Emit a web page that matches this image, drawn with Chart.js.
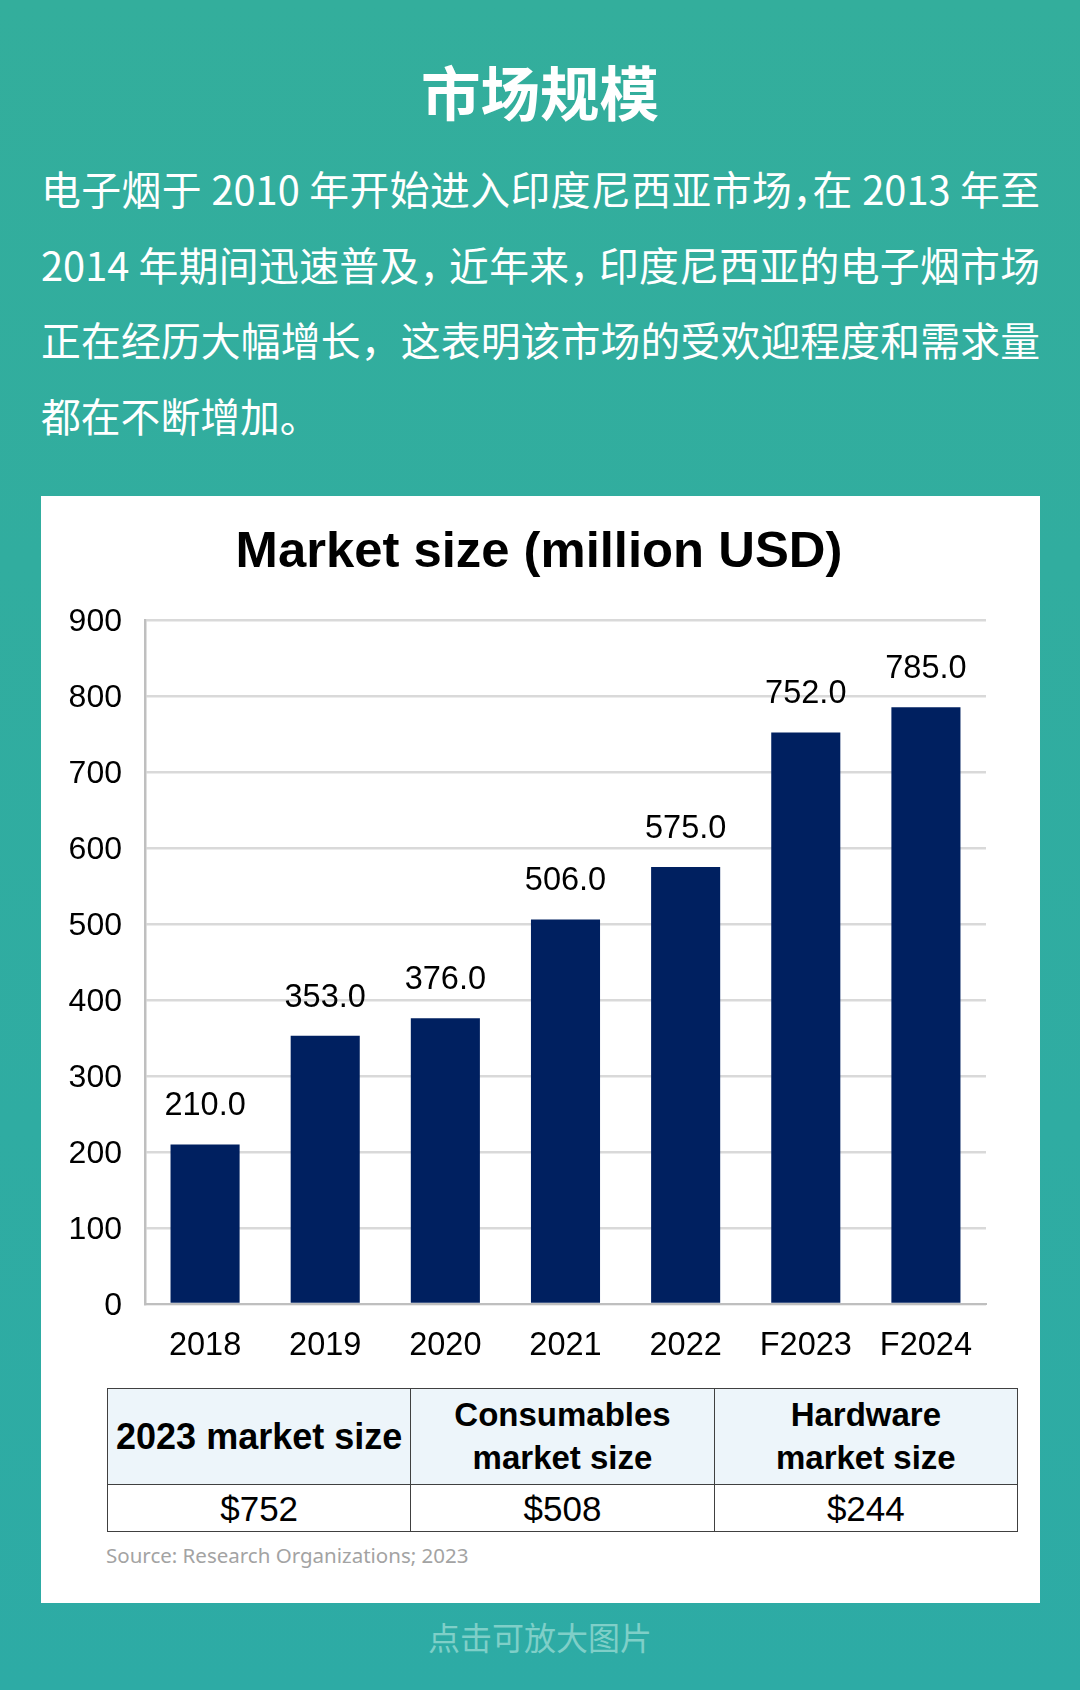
<!DOCTYPE html>
<html>
<head>
<meta charset="utf-8">
<script src="https://cdn.jsdelivr.net/npm/chart.js@4"></script>
<style>
    html, body { margin: 0; padding: 0; }
    body { width: 1080px; height: 1690px; position: relative; overflow: hidden;
        background: linear-gradient(180deg, #33ae9c 0%, #2daba5 100%);
        font-family: "Noto Sans CJK SC", sans-serif; color: #fff; }
    #heading { position: absolute; left: 0; width: 1080px; top: 50px; text-align: center;
        font-size: 59.5px; line-height: 80px; font-weight: 700; }
    #intro div { position: absolute; left: 41px; width: 999px; height: 76px; line-height: 76px;
        font-size: 39.8px; text-align: justify; text-align-last: justify; white-space: nowrap; }
    #intro div.tight { font-feature-settings: "halt"; }
    #intro div:last-child { text-align-last: left; }
    #card { position: absolute; left: 41px; top: 496px; width: 999px; height: 1107px; background: #fff; }
    #chart { position: absolute; left: 0; top: 0; }
    #summary { position: absolute; left: 66px; top: 892px; width: 911px; height: 144px; border-collapse: collapse;
        table-layout: fixed; font-family: "Liberation Sans", Arial, sans-serif; color: #000; }
    #summary td { border: 1.5px solid #404040; text-align: center; padding: 0; }
    #summary tr:first-child td { background: #edf5fa; font-weight: 700; font-size: 33px; line-height: 43px; height: 94px; }
    #summary tr:first-child td:first-child { font-size: 36px; }
    #summary tr:last-child td { font-size: 35px; height: 47px; padding-top: 3px; box-sizing: border-box; }
    #source { position: absolute; left: 65px; top: 1043px; font-family: "Noto Sans", sans-serif;
        font-size: 20.5px; line-height: 32px; color: #a3a3a3; white-space: nowrap; }
    #hint { position: absolute; left: 0; width: 1080px; top: 1614px; text-align: center;
        font-size: 32px; line-height: 44px; color: #7fcfc8; }
</style>
</head>
<body>
<div id="heading"></div>
<div id="intro"></div>
<div id="card">
    <canvas id="chart" width="999" height="880"></canvas>
    <table id="summary"></table>
    <div id="source"></div>
</div>
<div id="hint"></div>
<script>
const heading = "市场规模";
const introLines = [
    "电子烟于 2010 年开始进入印度尼西亚市场，在 2013 年至",
    "2014 年期间迅速普及， 近年来， 印度尼西亚的电子烟市场",
    "正在经历大幅增长，这表明该市场的受欢迎程度和需求量",
    "都在不断增加。"
];
const chartTitle = "Market size (million USD)";
const years = ["2018", "2019", "2020", "2021", "2022", "F2023", "F2024"];
const marketSize = [210, 353, 376, 506, 575, 752, 785];
const tableHead = [["2023 market size"], ["Consumables", "market size"], ["Hardware", "market size"]];
const tableValues = ["$752", "$508", "$244"];
const sourceText = "Source: Research Organizations; 2023";
const hintText = "点击可放大图片";

document.getElementById("heading").textContent = heading;
document.getElementById("source").textContent = sourceText;
document.getElementById("hint").textContent = hintText;

introLines.forEach((line, i) => {
    const el = document.createElement("div");
    el.textContent = line;
    if (i < 2) el.className = "tight"; // these two only fit with half width commas
    el.style.top = (150 + i * 75.5) + "px";
    document.getElementById("intro").appendChild(el);
});

const table = document.getElementById("summary");
const headRow = table.insertRow();
tableHead.forEach(lines => { headRow.insertCell().innerHTML = lines.join("<br>"); });
const valueRow = table.insertRow();
tableValues.forEach(v => { valueRow.insertCell().textContent = v; });

// value labels above the bars, and the title centred on the card instead of the plot
const barValues = {
    id: "barValues",
    afterLayout(chart) {
        chart.titleBlock.right = chart.width - 3;
    },
    afterDatasetsDraw(chart) {
        const ctx = chart.ctx;
        ctx.save();
        ctx.font = '32.5px "Liberation Sans"';
        ctx.fillStyle = "#000";
        ctx.textAlign = "center";
        ctx.textBaseline = "middle";
        chart.getDatasetMeta(0).data.forEach((bar, i) => {
            ctx.fillText(marketSize[i].toFixed(1), bar.x, bar.y - 38);
        });
        ctx.restore();
    }
};

new Chart(document.getElementById("chart"), {
    type: "bar",
    data: {
        labels: years,
        datasets: [{ data: marketSize, backgroundColor: "#002060", barPercentage: 0.575, categoryPercentage: 1 }]
    },
    options: {
        responsive: false,
        animation: false,
        layout: { padding: { left: 0, right: 54, top: 0, bottom: 0 } },
        plugins: {
            legend: { display: false },
            tooltip: { enabled: false },
            title: {
                display: true,
                text: chartTitle,
                color: "#000",
                font: { family: "Liberation Sans", size: 50.8, weight: "bold", lineHeight: 1.2 },
                padding: { top: 27, bottom: 36 }
            }
        },
        scales: {
            x: {
                afterFit(scale) { scale.height = 72; },
                grid: { display: false, drawTicks: false },
                border: { color: "#bfbfbf", width: 2 },
                ticks: { color: "#000", padding: 23, font: { family: "Liberation Sans", size: 32.5 }, maxRotation: 0, autoSkip: false }
            },
            y: {
                min: 0,
                max: 900,
                afterFit(scale) { scale.width = 104; },
                grid: { color: "#d9d9d9", lineWidth: 2.5, drawTicks: false },
                border: { color: "#bfbfbf", width: 2.5 },
                ticks: { color: "#000", stepSize: 100, padding: 23, labelOffset: 2, font: { family: "Liberation Sans", size: 32 } }
            }
        }
    },
    plugins: [barValues]
});
</script>
</body>
</html>
